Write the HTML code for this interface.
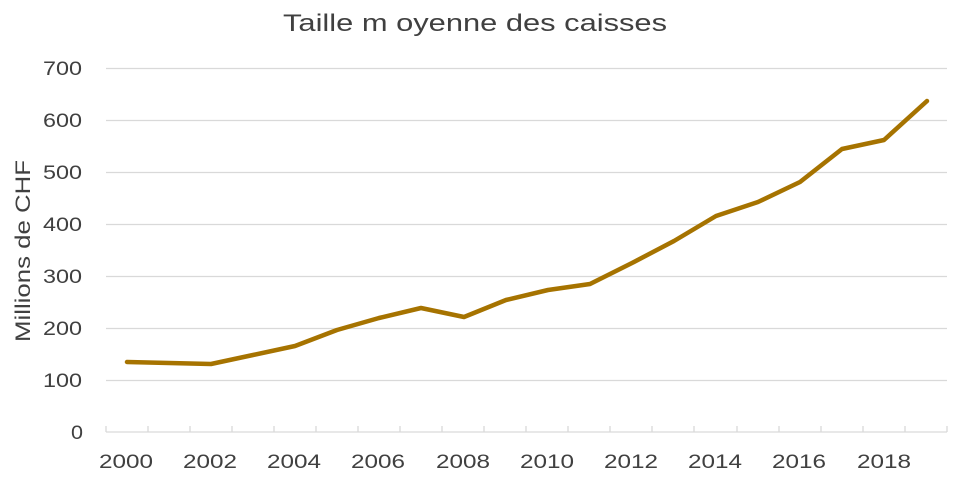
<!DOCTYPE html>
<html><head><meta charset="utf-8"><style>
html,body{margin:0;padding:0;background:#fff;}
svg{display:block;font-family:"Liberation Sans",sans-serif;}
</style></head><body>
<svg width="957" height="479" viewBox="0 0 957 479">
<text x="283" y="31" font-size="24" fill="#404040" textLength="384" lengthAdjust="spacingAndGlyphs">Taille m oyenne des caisses</text>
<g stroke="#d9d9d9" stroke-width="1.3">
<line x1="106" x2="947" y1="68.5" y2="68.5"/>
<line x1="106" x2="947" y1="120.5" y2="120.5"/>
<line x1="106" x2="947" y1="172.5" y2="172.5"/>
<line x1="106" x2="947" y1="224.5" y2="224.5"/>
<line x1="106" x2="947" y1="276.5" y2="276.5"/>
<line x1="106" x2="947" y1="328.5" y2="328.5"/>
<line x1="106" x2="947" y1="380.5" y2="380.5"/>
<line x1="106" x2="947" y1="432" y2="432"/>
<path d="M106 426V432M148 426V432M190 426V432M232 426V432M274 426V432M316 426V432M358 426V432M400 426V432M442 426V432M484 426V432M526 426V432M568 426V432M610 426V432M652 426V432M694 426V432M737 426V432M779 426V432M821 426V432M863 426V432M905 426V432M947 426V432"/>
</g>
<g font-size="19" fill="#404040">
<text x="43" y="75" textLength="39" lengthAdjust="spacingAndGlyphs">700</text><text x="43" y="127" textLength="39" lengthAdjust="spacingAndGlyphs">600</text><text x="43" y="179" textLength="39" lengthAdjust="spacingAndGlyphs">500</text>
<text x="43" y="231" textLength="39" lengthAdjust="spacingAndGlyphs">400</text><text x="43" y="283" textLength="39" lengthAdjust="spacingAndGlyphs">300</text><text x="43" y="335" textLength="39" lengthAdjust="spacingAndGlyphs">200</text>
<text x="43" y="387" textLength="39" lengthAdjust="spacingAndGlyphs">100</text><text x="71" y="439" textLength="12" lengthAdjust="spacingAndGlyphs">0</text>
</g>
<g font-size="19" fill="#404040">
<text x="99" y="468" textLength="54" lengthAdjust="spacingAndGlyphs">2000</text><text x="183" y="468" textLength="54" lengthAdjust="spacingAndGlyphs">2002</text><text x="267" y="468" textLength="54" lengthAdjust="spacingAndGlyphs">2004</text>
<text x="351" y="468" textLength="54" lengthAdjust="spacingAndGlyphs">2006</text><text x="436" y="468" textLength="54" lengthAdjust="spacingAndGlyphs">2008</text><text x="520" y="468" textLength="54" lengthAdjust="spacingAndGlyphs">2010</text>
<text x="604" y="468" textLength="54" lengthAdjust="spacingAndGlyphs">2012</text><text x="688" y="468" textLength="54" lengthAdjust="spacingAndGlyphs">2014</text><text x="772" y="468" textLength="54" lengthAdjust="spacingAndGlyphs">2016</text>
<text x="857" y="468" textLength="54" lengthAdjust="spacingAndGlyphs">2018</text>
</g>
<text transform="translate(30,342) rotate(-90)" font-size="21" fill="#404040" textLength="182" lengthAdjust="spacingAndGlyphs">Millions de CHF</text>
<polyline fill="none" stroke="#A67300" stroke-width="4.5" stroke-linejoin="round" stroke-linecap="round"
points="127,362 169,363 211,364 253,355 295,346 337,330 379,318 421,308 464,317 506,300 548,290 590,284 632,263 674,241 716,216 758,202 800,182 842,149 884,140 927,101"/>
</svg>
</body></html>
